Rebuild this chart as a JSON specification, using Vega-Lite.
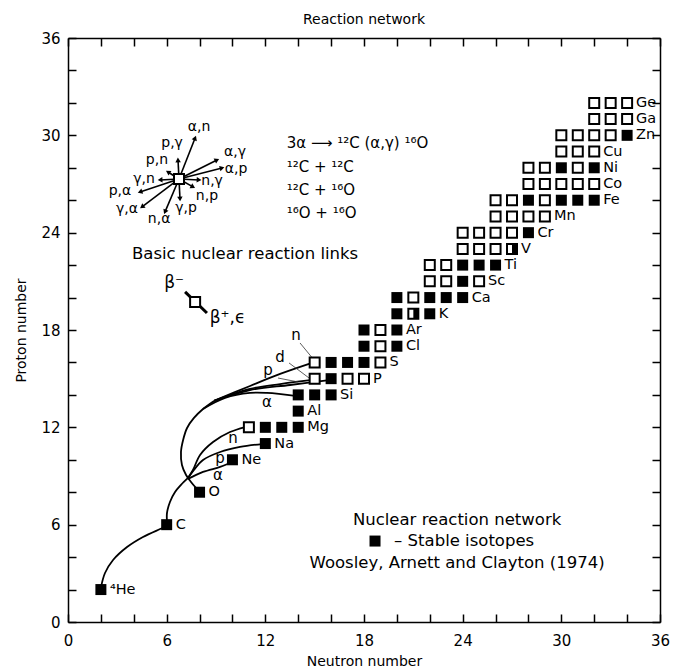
{
  "$schema": "https://vega.github.io/schema/vega-lite/v6.json",
  "width": 592,
  "height": 584,
  "autosize": {"type": "none"},
  "padding": {"left": 68, "top": 38, "right": 14, "bottom": 47},
  "background": "white",
  "config": {
    "view": {"stroke": null},
    "font": "DejaVu Sans",
    "axis": {"domainColor": "black", "domainWidth": 1.5, "tickColor": "black", "tickWidth": 1.5, "tickSize": -8, "labelFontSize": 15, "labelColor": "black", "labelFont": "DejaVu Sans", "titleFont": "DejaVu Sans", "titleFontSize": 14, "titleFontWeight": "normal", "titleColor": "black", "grid": false, "labelFlush": false, "labelOverlap": false},
    "text": {"font": "DejaVu Sans", "fontSize": 15, "color": "black"}
  },
  "title": {"text": "Reaction network", "fontSize": 14, "fontWeight": "normal", "offset": 4, "color": "black", "font": "DejaVu Sans"},
  "datasets": {
    "iso": [
      {"n":2,"z":2,"t":"s"},
      {"n":6,"z":6,"t":"s"},
      {"n":8,"z":8,"t":"s"},
      {"n":10,"z":10,"t":"s"},
      {"n":12,"z":11,"t":"s"},
      {"n":11,"z":12,"t":"u"},{"n":12,"z":12,"t":"s"},{"n":13,"z":12,"t":"s"},{"n":14,"z":12,"t":"s"},
      {"n":14,"z":13,"t":"s"},
      {"n":14,"z":14,"t":"s"},{"n":15,"z":14,"t":"s"},{"n":16,"z":14,"t":"s"},
      {"n":15,"z":15,"t":"u"},{"n":16,"z":15,"t":"s"},{"n":17,"z":15,"t":"u"},{"n":18,"z":15,"t":"u"},
      {"n":15,"z":16,"t":"u"},{"n":16,"z":16,"t":"s"},{"n":17,"z":16,"t":"s"},{"n":18,"z":16,"t":"s"},{"n":19,"z":16,"t":"u"},
      {"n":18,"z":17,"t":"s"},{"n":19,"z":17,"t":"u"},{"n":20,"z":17,"t":"s"},
      {"n":18,"z":18,"t":"s"},{"n":19,"z":18,"t":"u"},{"n":20,"z":18,"t":"s"},
      {"n":20,"z":19,"t":"s"},{"n":21,"z":19,"t":"h"},{"n":22,"z":19,"t":"s"},
      {"n":20,"z":20,"t":"s"},{"n":21,"z":20,"t":"u"},{"n":22,"z":20,"t":"s"},{"n":23,"z":20,"t":"s"},{"n":24,"z":20,"t":"s"},
      {"n":22,"z":21,"t":"u"},{"n":23,"z":21,"t":"u"},{"n":24,"z":21,"t":"s"},{"n":25,"z":21,"t":"u"},
      {"n":22,"z":22,"t":"u"},{"n":23,"z":22,"t":"u"},{"n":24,"z":22,"t":"s"},{"n":25,"z":22,"t":"s"},{"n":26,"z":22,"t":"s"},
      {"n":24,"z":23,"t":"u"},{"n":25,"z":23,"t":"u"},{"n":26,"z":23,"t":"u"},{"n":27,"z":23,"t":"h"},
      {"n":24,"z":24,"t":"u"},{"n":25,"z":24,"t":"u"},{"n":26,"z":24,"t":"u"},{"n":27,"z":24,"t":"u"},{"n":28,"z":24,"t":"s"},
      {"n":26,"z":25,"t":"u"},{"n":27,"z":25,"t":"u"},{"n":28,"z":25,"t":"u"},{"n":29,"z":25,"t":"u"},
      {"n":26,"z":26,"t":"u"},{"n":27,"z":26,"t":"u"},{"n":28,"z":26,"t":"s"},{"n":29,"z":26,"t":"u"},{"n":30,"z":26,"t":"s"},{"n":31,"z":26,"t":"s"},{"n":32,"z":26,"t":"s"},
      {"n":28,"z":27,"t":"u"},{"n":29,"z":27,"t":"u"},{"n":30,"z":27,"t":"u"},{"n":31,"z":27,"t":"u"},{"n":32,"z":27,"t":"u"},
      {"n":28,"z":28,"t":"u"},{"n":29,"z":28,"t":"u"},{"n":30,"z":28,"t":"s"},{"n":31,"z":28,"t":"u"},{"n":32,"z":28,"t":"s"},
      {"n":30,"z":29,"t":"u"},{"n":31,"z":29,"t":"u"},{"n":32,"z":29,"t":"u"},
      {"n":30,"z":30,"t":"u"},{"n":31,"z":30,"t":"u"},{"n":32,"z":30,"t":"u"},{"n":33,"z":30,"t":"u"},{"n":34,"z":30,"t":"s"},
      {"n":32,"z":31,"t":"u"},{"n":33,"z":31,"t":"u"},{"n":34,"z":31,"t":"u"},
      {"n":32,"z":32,"t":"u"},{"n":33,"z":32,"t":"u"},{"n":34,"z":32,"t":"u"}
    ],
    "lab": [
      {"n":2,"z":2,"s":"⁴He"},{"n":6,"z":6,"s":"C"},{"n":8,"z":8,"s":"O"},{"n":10,"z":10,"s":"Ne"},{"n":12,"z":11,"s":"Na"},
      {"n":14,"z":12,"s":"Mg"},{"n":14,"z":13,"s":"Al"},{"n":16,"z":14,"s":"Si"},{"n":18,"z":15,"s":"P"},{"n":19,"z":16,"s":"S"},
      {"n":20,"z":17,"s":"Cl"},{"n":20,"z":18,"s":"Ar"},{"n":22,"z":19,"s":"K"},{"n":24,"z":20,"s":"Ca"},{"n":25,"z":21,"s":"Sc"},
      {"n":26,"z":22,"s":"Ti"},{"n":27,"z":23,"s":"V"},{"n":28,"z":24,"s":"Cr"},{"n":29,"z":25,"s":"Mn"},{"n":32,"z":26,"s":"Fe"},
      {"n":32,"z":27,"s":"Co"},{"n":32,"z":28,"s":"Ni"},{"n":32,"z":29,"s":"Cu"},{"n":34,"z":30,"s":"Zn"},{"n":34,"z":31,"s":"Ga"},{"n":34,"z":32,"s":"Ge"}
    ],
    "curves": [
      {"c":"hc","i":1,"n":2.01,"z":2.16},{"c":"hc","i":2,"n":2.25,"z":3.02},{"c":"hc","i":3,"n":2.74,"z":3.82},{"c":"hc","i":4,"n":3.59,"z":4.62},{"c":"hc","i":5,"n":4.56,"z":5.24},{"c":"hc","i":6,"n":5.6,"z":5.73},{"c":"hc","i":7,"n":6.02,"z":5.92},
      {"c":"cx","i":1,"n":6.02,"z":6.17},{"c":"cx","i":2,"n":6.02,"z":6.72},{"c":"cx","i":3,"n":6.2,"z":7.4},{"c":"cx","i":4,"n":6.51,"z":8.01},{"c":"cx","i":5,"n":6.87,"z":8.45},{"c":"cx","i":6,"n":7.3,"z":8.88},
      {"c":"ot","i":1,"n":8.03,"z":8.01},{"c":"ot","i":2,"n":7.79,"z":8.26},{"c":"ot","i":3,"n":7.48,"z":8.63},{"c":"ot","i":4,"n":7.18,"z":9.06},{"c":"ot","i":5,"n":6.93,"z":9.68},{"c":"ot","i":6,"n":6.87,"z":10.48},{"c":"ot","i":7,"n":7.0,"z":11.22},{"c":"ot","i":8,"n":7.24,"z":11.96},{"c":"ot","i":9,"n":7.66,"z":12.58},{"c":"ot","i":10,"n":8.21,"z":13.13},{"c":"ot","i":11,"n":8.88,"z":13.63},
      {"c":"un","i":1,"n":8.88,"z":13.63},{"c":"un","i":2,"n":11.07,"z":14.55},{"c":"un","i":3,"n":12.9,"z":15.29},{"c":"un","i":4,"n":14.84,"z":15.97},
      {"c":"ud","i":1,"n":8.88,"z":13.63},{"c":"ud","i":2,"n":11.07,"z":14.37},{"c":"ud","i":3,"n":12.9,"z":14.67},{"c":"ud","i":4,"n":14.84,"z":14.92},
      {"c":"up","i":1,"n":8.88,"z":13.63},{"c":"up","i":2,"n":11.07,"z":14.3},{"c":"up","i":3,"n":13.5,"z":14.61},{"c":"up","i":4,"n":15.75,"z":14.9},
      {"c":"ua","i":1,"n":8.21,"z":13.13},{"c":"ua","i":2,"n":9.55,"z":13.81},{"c":"ua","i":3,"n":11.07,"z":14.12},{"c":"ua","i":4,"n":12.1,"z":14.12},{"c":"ua","i":5,"n":13.93,"z":13.93},
      {"c":"la","i":1,"n":7.3,"z":8.82},{"c":"la","i":2,"n":8.21,"z":9.25},{"c":"la","i":3,"n":9.25,"z":9.56},{"c":"la","i":4,"n":9.85,"z":9.8},
      {"c":"lp","i":1,"n":7.3,"z":8.88},{"c":"lp","i":2,"n":7.6,"z":9.3},{"c":"lp","i":3,"n":8.21,"z":9.99},{"c":"lp","i":4,"n":9.25,"z":10.48},{"c":"lp","i":5,"n":10.46,"z":10.79},{"c":"lp","i":6,"n":11.8,"z":10.97},
      {"c":"ln","i":1,"n":7.3,"z":8.88},{"c":"ln","i":2,"n":7.6,"z":9.37},{"c":"ln","i":3,"n":8.03,"z":10.3},{"c":"ln","i":4,"n":8.82,"z":11.1},{"c":"ln","i":5,"n":9.85,"z":11.71},{"c":"ln","i":6,"n":10.77,"z":12.02}
    ],
    "ptr": [
      {"n":14.11,"z":17.2,"n2":14.96,"z2":16.15},
      {"n":13.44,"z":15.97,"n2":14.66,"z2":15.04},
      {"n":12.77,"z":15.04,"n2":13.99,"z2":14.8}
    ],
    "links": [
      {"r":"α,n","n":7.73,"z":29.84,"ln":7.97,"lz":30.52},
      {"r":"α,γ","n":9.06,"z":28.48,"ln":10.16,"lz":28.98},
      {"r":"α,p","n":9.37,"z":27.99,"ln":10.22,"lz":27.93},
      {"r":"n,γ","n":7.97,"z":27.25,"ln":8.76,"lz":27.19},
      {"r":"n,p","n":7.6,"z":26.82,"ln":8.45,"lz":26.26},
      {"r":"γ,p","n":6.81,"z":26.08,"ln":7.18,"lz":25.52},
      {"r":"n,α","n":5.9,"z":25.28,"ln":5.54,"lz":24.85},
      {"r":"γ,α","n":4.5,"z":25.59,"ln":3.59,"lz":25.46},
      {"r":"p,α","n":4.38,"z":26.51,"ln":3.16,"lz":26.57},
      {"r":"γ,n","n":5.6,"z":27.25,"ln":4.62,"lz":27.31},
      {"r":"p,n","n":6.08,"z":27.74,"ln":5.41,"lz":28.48},
      {"r":"p,γ","n":6.69,"z":28.48,"ln":6.33,"lz":29.53}
    ],
    "beta": [{"n":7.12,"z":20.35,"n2":8.45,"z2":19.05}],
    "boxes": [{"n":6.75,"z":27.31},{"n":7.73,"z":19.73}],
    "key": [{"n":18.67,"z":4.99}],
    "notesL": [
      {"n":13.3,"z":29.5,"s":"3α ⟶ ¹²C (α,γ) ¹⁶O"},
      {"n":13.3,"z":28.05,"s":"¹²C + ¹²C"},
      {"n":13.3,"z":26.63,"s":"¹²C + ¹⁶O"},
      {"n":13.3,"z":25.2,"s":"¹⁶O + ¹⁶O"}
    ],
    "notesC": [
      {"n":10.77,"z":22.69,"s":"Basic nuclear reaction links"},
      {"n":23.66,"z":6.29,"s":"Nuclear reaction network"},
      {"n":24.09,"z":4.99,"s":"– Stable isotopes"},
      {"n":23.66,"z":3.64,"s":"Woosley, Arnett and Clayton (1974)"}
    ],
    "fan": [
      {"n":9.12,"z":9.06,"s":"α"},{"n":9.25,"z":10.11,"s":"p"},{"n":10.04,"z":11.34,"s":"n"},
      {"n":13.87,"z":17.7,"s":"n"},{"n":12.9,"z":16.34,"s":"d"},{"n":12.17,"z":15.54,"s":"p"},{"n":12.1,"z":13.56,"s":"α"}
    ],
    "betalab": [{"n":6.45,"z":20.9,"s":"β⁻"},{"n":9.7,"z":18.74,"s":"β⁺,ϵ"}]
  },
  "encoding": {
    "x": {"field": "n", "type": "quantitative", "scale": {"domain": [0, 36], "nice": false, "zero": false}, "axis": null},
    "y": {"field": "z", "type": "quantitative", "scale": {"domain": [0, 36], "nice": false, "zero": false}, "axis": null}
  },
  "layer": [
    {"data": {"name": "curves"}, "mark": {"type": "line", "interpolate": "catmull-rom", "color": "black", "strokeWidth": 1.8}, "encoding": {"detail": {"field": "c"}, "order": {"field": "i", "type": "quantitative"}}},
    {"data": {"name": "ptr"}, "mark": {"type": "rule", "color": "#333333", "strokeWidth": 0.8}, "encoding": {"x2": {"field": "n2"}, "y2": {"field": "z2"}}},
    {"data": {"name": "links"}, "mark": {"type": "rule", "color": "black", "strokeWidth": 1.6}, "encoding": {"x2": {"datum": 6.75}, "y2": {"datum": 27.31}}},
    {"data": {"name": "links"}, "transform": [{"calculate": "atan2((datum.n - 6.75) * 16.44, (datum.z - 27.31) * 16.22) * 180 / PI", "as": "ang"}], "mark": {"type": "point", "shape": "triangle-up", "filled": true, "color": "black", "size": 30, "opacity": 1}, "encoding": {"angle": {"field": "ang", "type": "quantitative", "scale": null}}},
    {"data": {"name": "beta"}, "mark": {"type": "rule", "color": "black", "strokeWidth": 3}, "encoding": {"x2": {"field": "n2"}, "y2": {"field": "z2"}}},
    {"data": {"name": "iso"}, "transform": [{"filter": "datum.t != 's'"}], "mark": {"type": "point", "shape": "square", "filled": true, "fill": "white", "stroke": "black", "strokeWidth": 2, "size": 100, "opacity": 1},
     "encoding": {
       "x": {"field": "n", "type": "quantitative", "scale": {"domain": [0, 36], "nice": false, "zero": false}, "axis": {"orient": "bottom", "values": [0,2,4,6,8,10,12,14,16,18,20,22,24,26,28,30,32,34,36], "labelExpr": "datum.value % 6 == 0 ? datum.label : ''", "labelPadding": 19, "title": "Neutron number", "titlePadding": 6}},
       "y": {"field": "z", "type": "quantitative", "scale": {"domain": [0, 36], "nice": false, "zero": false}, "axis": {"orient": "left", "values": [0,2,4,6,8,10,12,14,16,18,20,22,24,26,28,30,32,34,36], "labelExpr": "datum.value % 6 == 0 ? datum.label : ''", "labelPadding": 16, "title": "Proton number", "titlePadding": 12}}
     }},
    {"data": {"name": "iso"}, "transform": [{"filter": "datum.t == 's'"}], "mark": {"type": "point", "shape": "square", "filled": true, "color": "black", "size": 121, "opacity": 1},
     "encoding": {
       "x": {"field": "n", "type": "quantitative", "scale": {"domain": [0, 36], "nice": false, "zero": false}, "axis": {"orient": "top", "values": [0,2,4,6,8,10,12,14,16,18,20,22,24,26,28,30,32,34,36], "labels": false, "title": null}},
       "y": {"field": "z", "type": "quantitative", "scale": {"domain": [0, 36], "nice": false, "zero": false}, "axis": {"orient": "right", "values": [0,2,4,6,8,10,12,14,16,18,20,22,24,26,28,30,32,34,36], "labels": false, "title": null}}
     }},
    {"data": {"name": "iso"}, "transform": [{"filter": "datum.t == 'h'"}], "mark": {"type": "point", "shape": "M0,-1H1V1H0Z", "filled": true, "color": "black", "size": 100, "opacity": 1}},
    {"data": {"name": "boxes"}, "mark": {"type": "point", "shape": "square", "filled": true, "fill": "white", "stroke": "black", "strokeWidth": 2, "size": 100, "opacity": 1}},
    {"data": {"name": "key"}, "mark": {"type": "point", "shape": "square", "filled": true, "color": "black", "size": 121, "opacity": 1}},
    {"data": {"name": "lab"}, "mark": {"type": "text", "align": "left", "baseline": "middle", "dx": 9, "fontSize": 14.5}, "encoding": {"text": {"field": "s"}}},
    {"data": {"name": "links"}, "mark": {"type": "text", "align": "center", "baseline": "middle", "fontSize": 14}, "encoding": {"x": {"field": "ln", "type": "quantitative", "scale": {"domain": [0, 36], "nice": false, "zero": false}, "axis": null}, "y": {"field": "lz", "type": "quantitative", "scale": {"domain": [0, 36], "nice": false, "zero": false}, "axis": null}, "text": {"field": "r"}}},
    {"data": {"name": "notesL"}, "mark": {"type": "text", "align": "left", "baseline": "middle", "fontSize": 15}, "encoding": {"text": {"field": "s"}}},
    {"data": {"name": "notesC"}, "mark": {"type": "text", "align": "center", "baseline": "middle", "fontSize": 16.5}, "encoding": {"text": {"field": "s"}}},
    {"data": {"name": "fan"}, "mark": {"type": "text", "align": "center", "baseline": "middle", "fontSize": 15}, "encoding": {"text": {"field": "s"}}},
    {"data": {"name": "betalab"}, "mark": {"type": "text", "align": "center", "baseline": "middle", "fontSize": 17}, "encoding": {"text": {"field": "s"}}}
  ],
  "resolve": {"axis": {"x": "independent", "y": "independent"}}
}
